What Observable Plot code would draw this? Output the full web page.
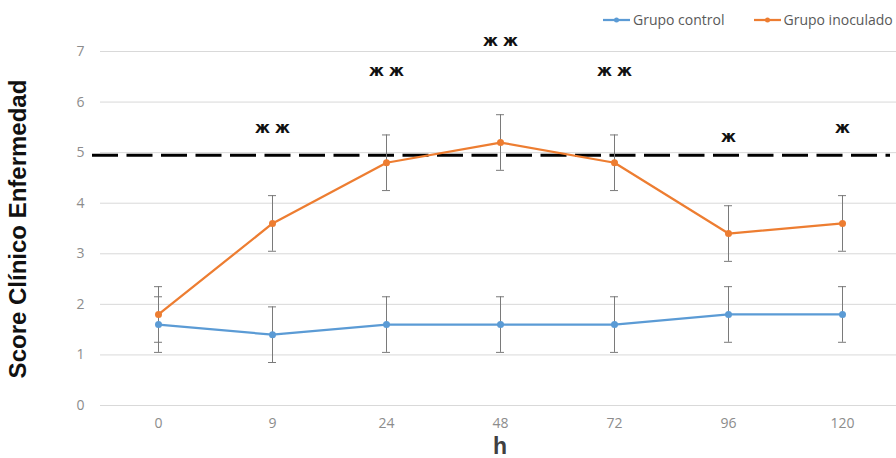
<!DOCTYPE html>
<html><head><meta charset="utf-8">
<script src="https://cdn.jsdelivr.net/npm/d3@7"></script>
<script src="https://cdn.jsdelivr.net/npm/@observablehq/plot@0.6"></script>
<style>
body{margin:0;background:#fff;}
#wrap{position:relative;width:896px;height:458px;overflow:hidden;background:#fff;}
#legend{position:absolute;top:10px;left:603px;white-space:nowrap;font:14px "Open Sans",sans-serif;color:#595959;display:flex;align-items:center;}
#legend .item{display:flex;align-items:center;margin-right:29px;}
#legend svg{margin-right:3px;}
#ylab{position:absolute;left:18px;top:229px;transform:translate(-50%,-50%) rotate(-90deg);font:bold 24px "Liberation Sans",Arial,sans-serif;color:#111;white-space:nowrap;}
#xlab{position:absolute;left:500px;top:436px;transform:translateX(-50%);font:bold 23px "Liberation Sans",Arial,sans-serif;color:#404040;line-height:0.9;}
</style></head><body>
<div id="wrap"><div id="chart"></div><div id="legend"></div><div id="ylab"></div><div id="xlab"></div></div>
<script>
const hours = ["0", "9", "24", "48", "72", "96", "120"];
const seriesNames = ["Grupo control", "Grupo inoculado"];
const seriesColors = ["#5b9bd5", "#ed7d31"];
const controlValues = [1.6, 1.4, 1.6, 1.6, 1.6, 1.8, 1.8];
const controlErrors = [0.55, 0.55, 0.55, 0.55, 0.55, 0.55, 0.55];
const inoculadoValues = [1.8, 3.6, 4.8, 5.2, 4.8, 3.4, 3.6];
const inoculadoErrors = [0.55, 0.55, 0.55, 0.55, 0.55, 0.55, 0.55];
const thresholdValue = 4.95;
const sigLabels = ["", "ж ж", "ж ж", "ж ж", "ж ж", "ж", "ж"];
const sigLevels = [null, 5.48, 6.62, 7.2, 6.62, 5.3, 5.48];
const yTicks = [0, 1, 2, 3, 4, 5, 6, 7];
const yTitle = "Score Clínico Enfermedad";
const xTitle = "h";

const rows = [];
[[controlValues, controlErrors], [inoculadoValues, inoculadoErrors]].forEach(([vals, errs], si) => {
  hours.forEach((h, i) => rows.push({h, s: seriesNames[si], v: vals[i], lo: vals[i] - errs[i], hi: vals[i] + errs[i]}));
});
const sig = hours.map((h, i) => ({h, t: sigLabels[i], y: sigLevels[i]})).filter(d => d.t);

const chart = Plot.plot({
  width: 896, height: 458,
  marginLeft: 100, marginRight: 0, marginTop: 51, marginBottom: 53,
  style: {fontFamily: "'Open Sans', sans-serif", fontSize: "14px", color: "#8c8c8c", background: "transparent"},
  x: {type: "band", domain: hours, range: [100, 900], padding: 0, label: null, tickSize: 0, tickPadding: 13},
  y: {domain: [0, 7], ticks: yTicks, tickFormat: d3.format("d"), label: null, tickSize: 0, tickPadding: 16},
  color: {domain: seriesNames, range: seriesColors},
  marks: [
    Plot.ruleY(yTicks, {stroke: "#d9d9d9", strokeWidth: 1}),
    Plot.ruleY([thresholdValue], {stroke: "#000", strokeWidth: 3, strokeDasharray: "26 8.5", insetLeft: -8, insetRight: 6}),
    Plot.ruleX(rows, {x: "h", y1: "lo", y2: "hi", stroke: "#7a7a7a", strokeWidth: 1}),
    Plot.tickY(rows, {x: "h", y: "lo", stroke: "#7a7a7a", strokeWidth: 1, inset: 53}),
    Plot.tickY(rows, {x: "h", y: "hi", stroke: "#7a7a7a", strokeWidth: 1, inset: 53}),
    Plot.line(rows, {x: "h", y: "v", z: "s", stroke: "s", strokeWidth: 2.25}),
    Plot.dot(rows, {x: "h", y: "v", fill: "s", r: 3.5}),
    Plot.text(sig, {x: "h", y: "y", text: "t", fill: "#111", fontSize: 15, fontWeight: "bold", fontFamily: "'DejaVu Sans', sans-serif"})
  ]
});
document.getElementById("chart").appendChild(chart);

document.getElementById("ylab").textContent = yTitle;
document.getElementById("xlab").textContent = xTitle;
const legend = document.getElementById("legend");
seriesNames.forEach((name, i) => {
  const item = document.createElement("div");
  item.className = "item";
  item.innerHTML = `<svg width="27" height="8"><line x1="0" y1="4" x2="27" y2="4" stroke="${seriesColors[i]}" stroke-width="2.25"/><circle cx="13.5" cy="4" r="2.5" fill="${seriesColors[i]}"/></svg>`;
  const span = document.createElement("span");
  span.textContent = name;
  item.appendChild(span);
  legend.appendChild(item);
});
</script></body></html>
